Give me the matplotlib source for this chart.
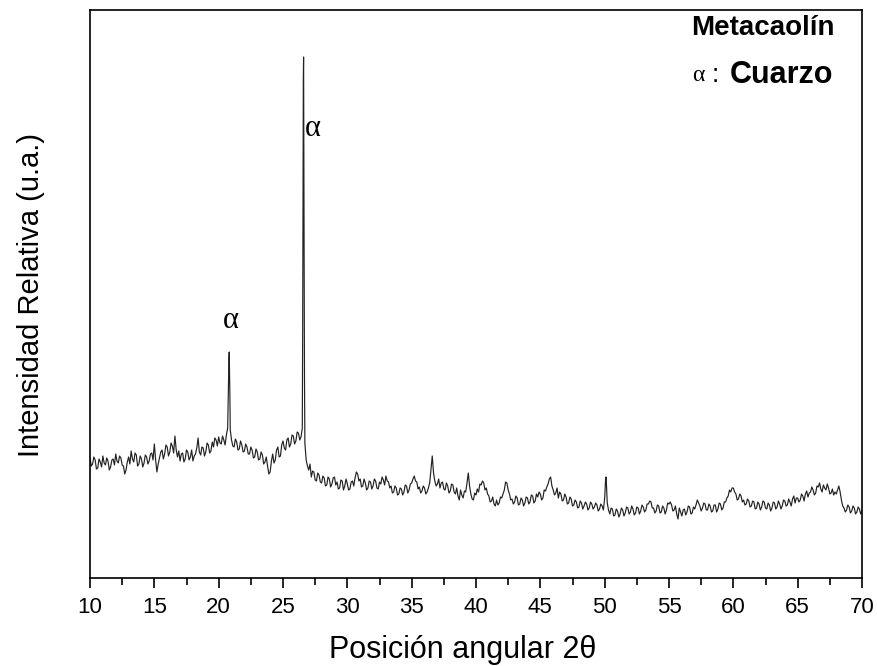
import numpy as np
import matplotlib
matplotlib.use("Agg")
import matplotlib.pyplot as plt

plt.rcParams['font.family'] = ['Liberation Sans', 'DejaVu Sans']

# Regular 2-theta sampling (step 0.1 deg) and intensities
two_theta_start = 10.0
two_theta_step = 0.1
intensity_grid = [
    # 10.0 - 14.9
    120, 112, 114, 121, 118, 109, 110, 119, 116, 111,
    122, 115, 113, 120, 117, 108, 111, 118, 119, 113,
    124, 117, 115, 122, 120, 113, 112, 104, 108, 116,
    121, 114, 127, 119, 116, 125, 123, 112, 114, 122,
    119, 111, 115, 123, 121, 114, 117, 124, 125, 118,
    # 15.0 - 19.9
    134, 118, 106, 114, 120, 126, 128, 119, 124, 133,
    131, 122, 126, 135, 132, 125, 142, 128, 121, 127,
    117, 124, 125, 116, 119, 128, 126, 118, 121, 128,
    117, 122, 124, 130, 140, 126, 123, 131, 130, 122,
    126, 135, 133, 125, 127, 136, 131, 140, 138, 132,
    # 20.0 - 24.9
    141, 135, 134, 142, 138, 133, 143, 150, 220, 148,
    138, 132, 131, 139, 136, 128, 129, 137, 133, 126,
    127, 134, 131, 124, 124, 131, 128, 120, 121, 129,
    126, 118, 119, 126, 123, 114, 116, 121, 112, 104,
    106, 117, 124, 115, 118, 128, 131, 121, 122, 133,
    # 25.0 - 29.9
    137, 130, 128, 138, 140, 131, 134, 143, 142, 134,
    137, 146, 145, 138, 141, 150, 521, 135, 118, 112,
    108, 114, 101, 107, 106, 98, 97, 105, 103, 96,
    95, 102, 100, 92, 93, 101, 99, 91, 94, 100,
    101, 93, 96, 89, 90, 98, 97, 88, 92, 99,
    # 30.0 - 34.9
    94, 88, 89, 96, 97, 92, 100, 106, 104, 97,
    99, 91, 92, 99, 95, 88, 90, 97, 96, 89,
    92, 99, 97, 90, 89, 96, 94, 101, 98, 93,
    102, 97, 96, 90, 92, 85, 86, 92, 90, 83,
    84, 90, 89, 83, 86, 93, 92, 85, 88, 94,
    # 35.0 - 39.9
    95, 99, 102, 97, 96, 89, 91, 85, 87, 92,
    90, 84, 86, 90, 95, 108, 122, 105, 97, 92,
    94, 99, 90, 95, 96, 89, 88, 95, 92, 85,
    87, 94, 93, 86, 84, 90, 82, 78, 88, 83,
    80, 87, 86, 95, 105, 92, 84, 79, 78, 85,
    # 40.0 - 44.9
    83, 89, 86, 94, 93, 97, 95, 88, 90, 84,
    82, 76, 77, 81, 74, 72, 78, 73, 75, 81,
    80, 84, 88, 96, 95, 88, 84, 78, 79, 74,
    76, 82, 80, 73, 74, 80, 78, 72, 75, 81,
    80, 74, 76, 83, 82, 75, 77, 84, 81, 86,
    # 45.0 - 49.9
    84, 78, 80, 88, 87, 91, 94, 99, 101, 92,
    88, 83, 85, 90, 80, 86, 84, 77, 78, 84,
    81, 74, 75, 81, 79, 72, 73, 78, 76, 70,
    71, 77, 75, 69, 72, 76, 74, 68, 70, 76,
    74, 69, 71, 75, 73, 67, 69, 74, 72, 68,
    # 50.0 - 54.9
    80, 101, 75, 68, 64, 70, 69, 62, 63, 69,
    67, 61, 64, 70, 68, 62, 65, 71, 70, 64,
    66, 72, 69, 63, 65, 71, 70, 64, 67, 73,
    71, 66, 68, 74, 74, 77, 76, 70, 70, 65,
    67, 73, 72, 65, 66, 72, 70, 64, 68, 75,
    # 55.0 - 59.9
    74, 76, 73, 67, 68, 72, 64, 59, 70, 66,
    62, 68, 69, 63, 66, 72, 71, 64, 65, 71,
    69, 73, 78, 75, 72, 67, 70, 75, 74, 68,
    68, 74, 72, 66, 67, 73, 73, 66, 69, 75,
    74, 68, 70, 76, 76, 80, 82, 88, 86, 90,
    # 60.0 - 64.9
    90, 86, 84, 78, 79, 84, 82, 76, 78, 73,
    74, 79, 77, 71, 72, 77, 76, 69, 70, 76,
    74, 68, 71, 77, 76, 70, 69, 75, 73, 67,
    70, 76, 75, 69, 71, 77, 74, 69, 72, 78,
    77, 72, 73, 79, 76, 72, 79, 82, 75, 80,
    # 65.0 - 70.0
    80, 76, 78, 84, 82, 77, 84, 87, 81, 85,
    86, 91, 88, 83, 85, 92, 91, 95, 89, 86,
    93, 90, 88, 94, 90, 84, 85, 89, 83, 86,
    84, 88, 92, 86, 78, 72, 70, 66, 68, 73,
    71, 65, 67, 72, 70, 64, 66, 71, 69, 64,
    67,
]

# Extra points sampled across the narrow reflections
peak_two_theta = [20.75, 20.78, 20.82, 20.85, 20.87,
                  26.53, 26.56, 26.58, 26.62, 26.64, 26.67,
                  50.07, 50.13]
peak_intensity = [185, 212, 226, 205, 185,
                  250, 400, 500, 440, 330, 200,
                  98, 96]

# Annotations
alpha_label_x = [20.95, 27.35]
alpha_label_y = [258, 450]

two_theta_grid = two_theta_start + two_theta_step * np.arange(len(intensity_grid))
x_all = np.concatenate([two_theta_grid, peak_two_theta])
y_all = np.concatenate([intensity_grid, peak_intensity])
order = np.argsort(x_all, kind='stable')
x_all = x_all[order]
y_all = y_all[order]

fig = plt.figure(figsize=(8.77, 6.66), dpi=100)
ax = fig.add_axes([90/877, 88/666, 772/877, 568/666])
ax.plot(x_all, y_all, color='#222222', lw=0.85)

ax.set_xlim(10, 70)
ax.set_ylim(0, 568)
ax.set_xticks(np.arange(10, 71, 5))
ax.set_xticks(np.arange(12.5, 70, 5), minor=True)
ax.tick_params(axis='x', which='major', direction='out', length=7, width=1.2, labelsize=16, pad=7)
ax.tick_params(axis='x', which='minor', direction='out', length=5, width=1.2)
ax.set_yticks([])
for s in ax.spines.values():
    s.set_linewidth(1.2)

ax.set_xlabel('Posición angular 2\u03b8', fontsize=22)
ax.xaxis.set_label_coords(0.483, -0.101)
ax.set_ylabel('Intensidad Relativa (u.a.)', fontsize=21)
ax.yaxis.set_label_coords(-0.058, 0.498)

for xa, ya in zip(alpha_label_x, alpha_label_y):
    ax.text(xa, ya, '\u03b1', fontsize=22, family=['Liberation Serif', 'DejaVu Serif'],
            ha='center', va='center')

ax.text(0.965, 0.968, 'Metacaolín', transform=ax.transAxes, fontsize=20,
        fontweight='bold', ha='right', va='center')
ax.text(0.963, 0.886, 'Cuarzo', transform=ax.transAxes, fontsize=22,
        fontweight='bold', ha='right', va='center')
ax.text(0.788, 0.884, '\u03b1', transform=ax.transAxes, fontsize=17,
        family=['Liberation Serif', 'DejaVu Serif'], ha='center', va='center')
ax.text(0.810, 0.886, ':', transform=ax.transAxes, fontsize=19,
        ha='center', va='center')

fig.savefig('out.png', dpi=100)
